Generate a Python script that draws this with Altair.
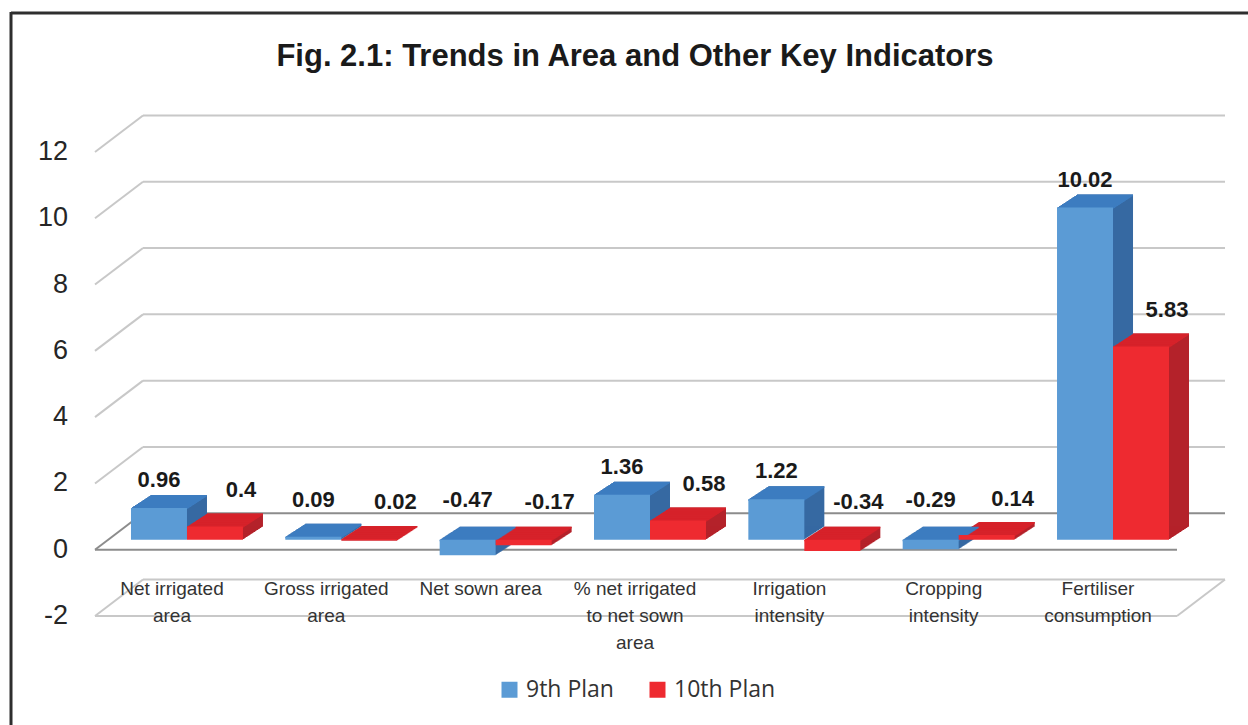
import altair as alt
import pandas as pd

# ---- data -----------------------------------------------------------------
categories = [
    "Net irrigated area",
    "Gross irrigated area",
    "Net sown area",
    "% net irrigated to net sown area",
    "Irrigation intensity",
    "Cropping intensity",
    "Fertiliser consumption",
]
category_labels = [
    "Net irrigated\narea",
    "Gross irrigated\narea",
    "Net sown area",
    "% net irrigated\nto net sown\narea",
    "Irrigation\nintensity",
    "Cropping\nintensity",
    "Fertiliser\nconsumption",
]
plans = ["9th Plan", "10th Plan"]
plan_9th = [0.96, 0.09, -0.47, 1.36, 1.22, -0.29, 10.02]
plan_10th = [0.4, 0.02, -0.17, 0.58, -0.34, 0.14, 5.83]
y_ticks = [-2, 0, 2, 4, 6, 8, 10, 12]
title_text = "Fig. 2.1: Trends in Area and Other Key Indicators"

# ---- layout / style -------------------------------------------------------
W, H = 1110, 464
PADDING = {"left": 95, "top": 152, "right": 43, "bottom": 109}
BAR_W = 0.3628                 # one bar, in category units
X_DOMAIN = [-0.596, 6.596]
DEPTH_X, DEPTH_Y = 20, 13      # extrusion of each bar (px)
LIFT = 10                      # bars stand a little behind the floor edge
GRID_DX, GRID_DY = 48, 36.5    # depth of the chart walls (px)
STEPS = 20

BLUE = {"front": "#5B9BD5", "top": "#3D7CC0", "side": "#3669A2"}
RED = {"front": "#EE2A30", "top": "#D6222A", "side": "#B4222A"}
GRID = "#C8C8C8"
GRID_ZERO = "#8C8C8C"
FONT = "Liberation Sans"

rows = []
for i, cat in enumerate(categories):
    for plan, series in zip(plans, [plan_9th, plan_10th]):
        rows.append({"category": cat, "idx": i, "plan": plan, "value": series[i]})
bars = pd.DataFrame(rows)
cats = pd.DataFrame({"idx": list(range(len(categories))), "label": category_labels})
ticks = pd.DataFrame({"tick": y_ticks})
one = pd.DataFrame({"k": [0]})

xs = alt.Scale(domain=X_DOMAIN, nice=False, zero=False)
ys = alt.Scale(domain=[-2, 12], nice=False, zero=False)

is_9th = "datum.plan === '9th Plan'"
bar_base = alt.Chart(bars).transform_calculate(
    x0=f"datum.idx + ({is_9th} ? -{BAR_W} : 0)",
    x1=f"datum.idx + ({is_9th} ? 0 : {BAR_W})",
    xc=f"datum.idx + ({is_9th} ? -{BAR_W / 2} : {BAR_W / 2})",
    lo="min(datum.value, 0)",
    hi="max(datum.value, 0)",
    label="'' + datum.value",
)


def face_color(face):
    return alt.condition(is_9th, alt.value(BLUE[face]), alt.value(RED[face]))


# ---- frame ---------------------------------------------------------------
frame_top = alt.Chart(one).mark_rule(color="#2E2E2E", strokeWidth=3).encode(
    x=alt.value(-84), x2=alt.value(1160), y=alt.value(-139)
)
frame_left = alt.Chart(one).mark_rule(color="#2E2E2E", strokeWidth=3).encode(
    x=alt.value(-84), y=alt.value(-140), y2=alt.value(580)
)

# ---- walls and floor -----------------------------------------------------
grid_color = alt.condition("datum.tick === 0", alt.value(GRID_ZERO), alt.value(GRID))
g = alt.Chart(ticks).transform_calculate(tick_text="'' + datum.tick")
grid_back = g.mark_rule(strokeWidth=2, yOffset=-GRID_DY).encode(
    y=alt.Y("tick:Q", scale=ys, axis=None),
    x=alt.value(GRID_DX), x2=alt.value(1130), color=grid_color,
)
grid_left = g.mark_rule(strokeWidth=2, y2Offset=-GRID_DY).encode(
    y=alt.Y("tick:Q", scale=ys, axis=None), y2="tick:Q",
    x=alt.value(0), x2=alt.value(GRID_DX), color=grid_color,
)
grid_front = g.transform_filter("datum.tick <= 0").mark_rule(strokeWidth=2).encode(
    y=alt.Y("tick:Q", scale=ys, axis=None),
    x=alt.value(0), x2=alt.value(1082), color=grid_color,
)
grid_right = g.transform_filter("datum.tick === -2").mark_rule(
    strokeWidth=2, yOffset=-GRID_DY
).encode(
    y=alt.Y("tick:Q", scale=ys, axis=None), y2="tick:Q",
    x=alt.value(1130), x2=alt.value(1082), color=grid_color,
)

# value-axis labels at the front edge of each gridline
tick_labels = g.mark_text(
    align="right", baseline="middle", font=FONT, fontSize=27, color="#262626"
).encode(
    x=alt.value(-27),
    y=alt.Y("tick:Q", scale=ys, axis=None),
    text="tick_text:N",
)

# ---- 3-D bars: side faces, top faces, then front faces -------------------
X0 = alt.X("x0:Q", scale=xs, axis=None)
side_layers, top_layers = [], []
for k in range(0, STEPS + 1):
    sx = DEPTH_X * k / STEPS
    sy = -LIFT - DEPTH_Y * k / STEPS
    if k > 0:
        side_layers.append(
            bar_base.mark_rect(xOffset=sx, x2Offset=sx, yOffset=sy, y2Offset=sy).encode(
                x=X0, x2="x1:Q",
                y=alt.Y("lo:Q", scale=ys, axis=None), y2="hi:Q",
                color=face_color("side"),
            )
        )
    top_layers.append(
        bar_base.mark_rect(xOffset=sx, x2Offset=sx, yOffset=sy, y2Offset=sy + 1.6).encode(
            x=X0, x2="x1:Q",
            y=alt.Y("hi:Q", scale=ys, axis=None), y2="hi:Q",
            color=face_color("top"),
        )
    )

front = bar_base.mark_rect(yOffset=-LIFT, y2Offset=-LIFT).encode(
    x=X0, x2="x1:Q",
    y=alt.Y("lo:Q", scale=ys, axis=None),
    y2="hi:Q",
    color=alt.Color(
        "plan:N",
        scale=alt.Scale(domain=plans, range=[BLUE["front"], RED["front"]]),
        legend=alt.Legend(
            orient="none", legendX=403, legendY=526, direction="horizontal",
            title=None, symbolType="square", symbolSize=256, symbolStrokeWidth=0,
            labelFont="Open Sans", labelFontSize=23, labelColor="#333333",
            labelOffset=5, columnPadding=32, padding=0,
        ),
    ),
)

# ---- value labels --------------------------------------------------------
label_style = dict(font=FONT, fontSize=22, fontWeight="bold", color="#1A1A1A",
                   align="center", baseline="middle")
labels_9th = bar_base.transform_filter(is_9th).transform_calculate(
    anchor="max(datum.value, 0.35)"
).mark_text(dy=-38, **label_style).encode(
    x=alt.X("xc:Q", scale=xs, axis=None),
    y=alt.Y("anchor:Q", scale=ys, axis=None), text="label:N",
)
labels_10th = bar_base.transform_filter("!(" + is_9th + ")").transform_calculate(
    anchor="max(datum.value, 0.06)"
).mark_text(dx=26, dy=-46, **label_style).encode(
    x=alt.X("xc:Q", scale=xs, axis=None),
    y=alt.Y("anchor:Q", scale=ys, axis=None), text="label:N",
)

# ---- category labels on the floor ---------------------------------------
cat_text = alt.Chart(cats).mark_text(
    align="center", baseline="top", dx=-15, dy=-36, lineBreak="\n", lineHeight=27,
    font=FONT, fontSize=19, color="#333333",
).encode(
    x=alt.X("idx:Q", scale=xs, axis=None),
    y=alt.datum(-2),
    text="label:N",
)

title = alt.Chart(one).mark_text(
    text=title_text, font=FONT, fontSize=31, fontWeight="bold", color="#1A1A1A",
    align="center", baseline="alphabetic",
).encode(x=alt.value(540), y=alt.value(-86))

chart = alt.layer(
    frame_top, frame_left,
    grid_back, grid_left, grid_front, grid_right, tick_labels,
    *side_layers, *top_layers, front,
    labels_9th, labels_10th, cat_text, title,
).properties(
    width=W, height=H, padding=PADDING,
    autosize=alt.AutoSizeParams(type="none"),
    background="white",
).configure_view(stroke=None)

chart.save("out.html", embed_options={"renderer": "svg", "actions": False})
